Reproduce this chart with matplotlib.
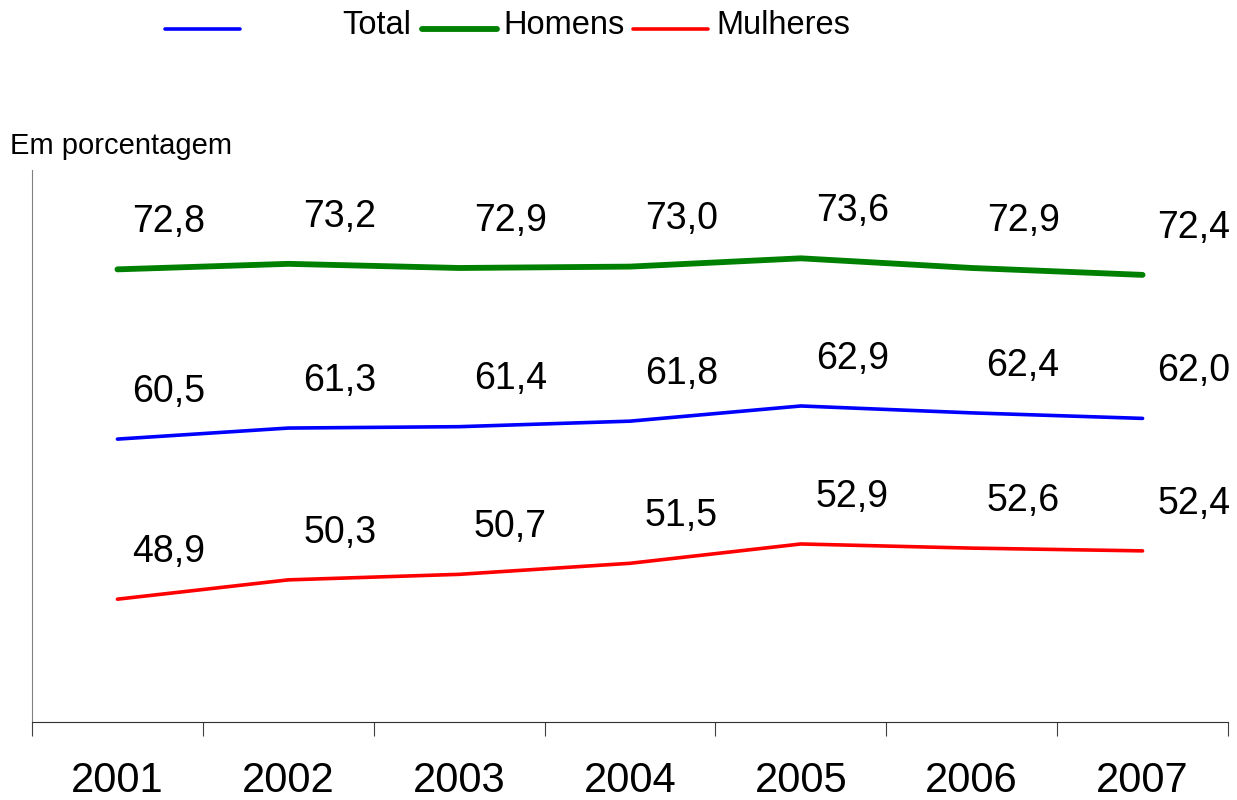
import numpy as np
import matplotlib
matplotlib.use('Agg')
import matplotlib.pyplot as plt
from matplotlib.lines import Line2D

plt.rcParams['font.family'] = ['Liberation Sans', 'DejaVu Sans']

anos = ['2001', '2002', '2003', '2004', '2005', '2006', '2007']
total = [60.5, 61.3, 61.4, 61.8, 62.9, 62.4, 62.0]
homens = [72.8, 73.2, 72.9, 73.0, 73.6, 72.9, 72.4]
mulheres = [48.9, 50.3, 50.7, 51.5, 52.9, 52.6, 52.4]

fig = plt.figure(figsize=(12.37, 8), dpi=100)
ax = fig.add_axes([32 / 1237, 1 - 722 / 800, (1228 - 32) / 1237, (722 - 170) / 800])

x = np.arange(len(anos))
ax.plot(x, homens, color='#008000', lw=4.2, solid_capstyle='round')
ax.plot(x, total, color='#0000ff', lw=2.6, solid_capstyle='round')
ax.plot(x, mulheres, color='#ff0000', lw=2.6, solid_capstyle='round')

# rótulos de dados
for serie in (homens, total, mulheres):
    for i, v in enumerate(serie):
        ax.annotate('{:.1f}'.format(v).replace('.', ','), (x[i], v),
                    xytext=(37, 34), textcoords='offset points',
                    ha='center', va='center', fontsize=27)

ax.set_xlim(-0.5, len(anos) - 0.5)
ax.set_ylim(40, 80)
ax.set_yticks([])
ax.set_xticks(np.arange(-0.5, len(anos), 1.0))
ax.set_xticklabels([])
ax.set_xticks(x, minor=True)
ax.set_xticklabels(anos, minor=True, fontsize=30)
ax.tick_params(axis='x', which='major', length=10, width=0.8, color='#404040', direction='out')
ax.tick_params(axis='x', which='minor', length=0, pad=28)
for s in ('top', 'right'):
    ax.spines[s].set_visible(False)
ax.spines['left'].set_color('#808080')
ax.spines['bottom'].set_color('#303030')

fig.text(10 / 1237, 1 - 146 / 800, 'Em porcentagem', fontsize=21, va='center', ha='left')

# legenda
leg = [(165, 240, '#0000ff', 2.6, 'Total', 342),
       (422, 497, '#008000', 4.2, 'Homens', 503),
       (633, 708, '#ff0000', 2.6, 'Mulheres', 716)]
for x0, x1, cor, lw, nome, tx in leg:
    fig.add_artist(Line2D([x0 / 1237, x1 / 1237], [1 - 29 / 800, 1 - 29 / 800],
                          color=cor, lw=lw, solid_capstyle='round'))
    fig.text(tx / 1237, 1 - 25 / 800, nome, fontsize=23.5,
             va='center', ha='left')

fig.savefig('out.png', dpi=100)
